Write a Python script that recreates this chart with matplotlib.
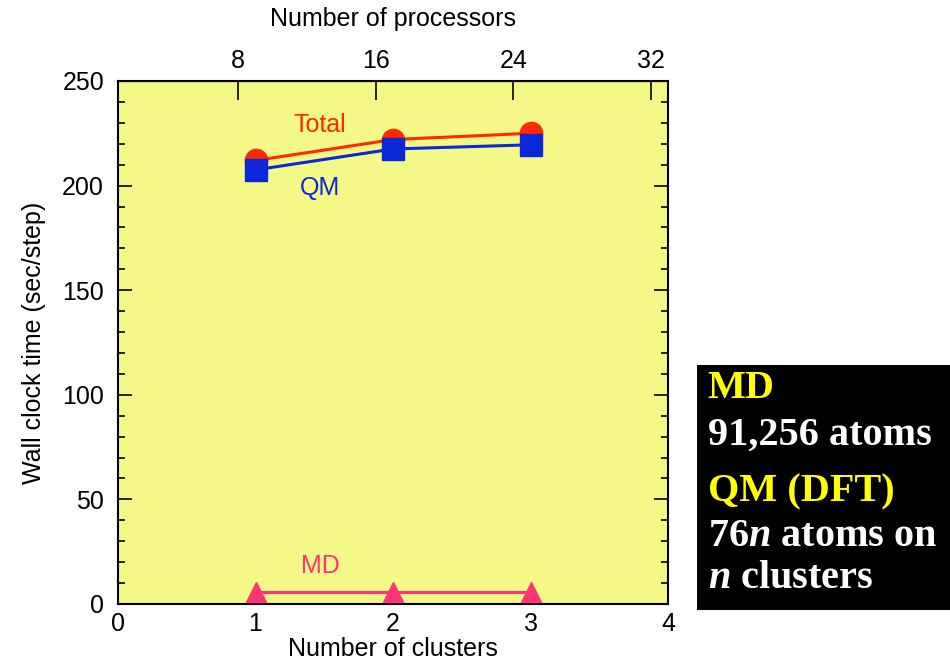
import matplotlib
matplotlib.use("Agg")
import matplotlib.pyplot as plt
from matplotlib.patches import Rectangle

# Data
clusters = [1, 2, 3]
total = [212, 222, 225]
qm = [207.5, 217.5, 219.5]
md = [5.5, 5.5, 5.5]
proc_ticks = [8, 16, 24, 32]

plt.rcParams['font.family'] = ['Liberation Sans', 'DejaVu Sans']
plt.rcParams['mathtext.fontset'] = 'custom'
plt.rcParams['mathtext.rm'] = 'Liberation Serif:bold'
plt.rcParams['mathtext.it'] = 'Liberation Serif:italic:bold'

fig = plt.figure(figsize=(9.5, 6.66), dpi=100)
ax = fig.add_axes([0.1242, 0.0931, 0.5790, 0.7853])
ax.set_facecolor('#F4F886')

red = '#FF2A00'
blue = '#0A28D8'
pink = '#FF3377'
fs = 18

ax.plot(clusters, total, color=red, lw=2.2, marker='o', ms=16, zorder=3)
ax.plot(clusters, qm, color=blue, lw=2.2, marker='s', ms=16, zorder=4)
ax.plot(clusters, md, color=pink, lw=2.2, marker='^', ms=15, zorder=3, clip_on=False)

ax.text(1.47, 229, 'Total', color=red, fontsize=fs, ha='center', va='center')
ax.text(1.47, 199, 'QM', color=blue, fontsize=fs, ha='center', va='center')
ax.text(1.47, 18, 'MD', color=pink, fontsize=fs, ha='center', va='center')

ax.set_xlim(0, 4)
ax.set_ylim(0, 250)
ax.set_xticks([0, 1, 2, 3, 4])
ax.set_yticks(range(0, 251, 50))
ax.set_yticks(range(0, 251, 10), minor=True)
ax.tick_params(axis='y', which='both', direction='in', left=True, right=True,
               labelsize=fs, pad=10)
ax.tick_params(axis='y', which='major', length=10, width=1.2)
ax.tick_params(axis='y', which='minor', length=5, width=1.2)
ax.tick_params(axis='x', which='both', bottom=False, labelsize=fs, pad=2)
for s in ax.spines.values():
    s.set_linewidth(1.5)
ax.set_xlabel('Number of clusters', fontsize=fs, labelpad=1)
ax.set_ylabel('Wall clock time (sec/step)', fontsize=fs, labelpad=12)

# top axis: processors = 8n + 1
top = ax.secondary_xaxis('top', functions=(lambda n: 8 * n + 1, lambda p: (p - 1) / 8))
top.set_xticks(proc_ticks)
top.tick_params(direction='in', length=14, width=1.2, labelsize=fs, pad=6)
top.set_xlabel('Number of processors', fontsize=fs, labelpad=16)

# black info box
fig.patches.append(Rectangle((0.7337, 0.084), 0.2663, 0.368, transform=fig.transFigure,
                             facecolor='black', edgecolor='none'))
kw = dict(fontfamily='Liberation Serif', fontweight='bold', fontsize=29, va='center', ha='left')
fig.text(0.745, 0.417, 'MD', color='#FFFF00', **kw)
fig.text(0.745, 0.347, '91,256 atoms', color='white', **kw)
fig.text(0.745, 0.262, 'QM (DFT)', color='#FFFF00', **kw)
fig.text(0.745, 0.194, r'76$\mathit{n}$ atoms on', color='white', **kw)
fig.text(0.745, 0.132, r'$\mathit{n}$ clusters', color='white', **kw)

fig.savefig('out.png', dpi=100)
